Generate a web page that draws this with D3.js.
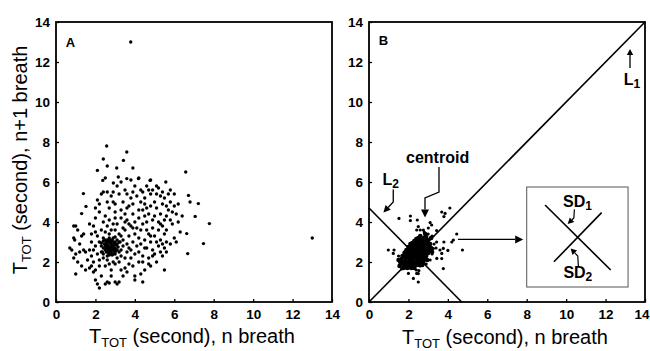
<!DOCTYPE html>
<html><head><meta charset="utf-8">
<script src="https://cdn.jsdelivr.net/npm/d3@7"></script>
<style>
body{margin:0;background:#fff;}
svg{display:block;}
.lab{font-family:"Liberation Sans",Arial,sans-serif;font-size:20px;}
.ann{font-family:"Liberation Sans",Arial,sans-serif;font-weight:bold;font-size:16px;}
</style></head><body>
<svg id="c" width="650" height="351"></svg>
<script>
// ---------- data ----------
const tickValues = [0, 2, 4, 6, 8, 10, 12, 14];
const panelLabels = ["A", "B"];
const axisLabelX = "(second), n breath";
const axisLabelY = "(second), n+1 breath";

// Panel A: T_TOT(n) vs T_TOT(n+1)
const pointsA = [
 [3.79,13.0],[13.0,3.2],
 [2.57,7.8],[3.59,7.5],[2.4,7.15],[3.42,7.08],[2.6,6.8],[3.9,6.7],[3.08,6.7],[2.1,6.58],[6.58,6.5],
 [2.37,6.08],[3.16,6.25],[3.59,6.17],[4.18,6.17],[4.77,6.08],[5.57,6.0],[2.91,5.95],[1.39,5.42],[1.52,4.78],[1.3,4.42],
 [6.72,5.33],[7.22,4.92],[6.8,5.0],[7.06,4.28],[7.78,3.92],[7.48,2.92],[6.68,2.42],[6.63,3.42],
 [0.7,2.7],[0.9,3.8],[1.0,3.8],[0.9,3.2],[0.95,3.1],[1.0,2.4],[0.9,2.2],[1.1,2.0],[1.0,1.4],[1.2,2.9],[1.3,3.3],
 [1.4,3.4],[1.1,3.6],[1.3,1.8],[1.5,1.6],[1.4,2.6],[1.5,2.5],[1.6,2.1],[0.8,2.6],[1.2,2.5],[1.7,2.6],[1.7,1.7],
 [1.8,3.0],[1.8,2.3],[1.9,2.0],[1.9,1.5],[1.8,1.8],
 [2.0,1.1],[2.1,0.9],[2.2,0.7],[2.5,0.9],[2.6,1.0],[2.7,0.95],[3.0,1.0],[3.1,0.9],[3.2,1.0],[3.4,1.3],[4.0,1.3],
 [4.0,1.1],[4.3,1.4],[4.4,1.0],[2.3,1.3],[2.8,1.3],[3.3,1.6],[2.0,1.6],[5.5,1.6],[3.6,1.5],[4.8,1.8],[4.4,2.0],
 [2.1,5.1],[2.0,4.7],[2.2,4.9],[2.3,5.4],[2.4,5.5],[2.5,4.3],[2.6,5.0],[2.7,4.7],[2.8,5.3],[2.9,5.5],[3.0,4.9],
 [3.0,4.2],[3.1,5.8],[3.2,5.4],[3.3,4.6],[3.4,5.0],[3.5,4.4],[3.6,5.4],[3.7,4.8],[3.8,5.2],[3.9,4.9],[4.0,5.8],
 [4.1,5.3],[4.2,4.6],[4.3,5.0],[4.4,5.5],[4.5,5.2],[4.6,4.7],[4.7,5.6],[4.8,5.4],[4.9,5.6],[5.0,5.0],[5.1,5.4],
 [5.2,5.7],[5.3,5.3],[5.4,5.5],[5.5,5.2],[5.6,4.8],[5.7,5.4],[5.8,5.0],[5.9,4.5],[6.0,4.8],[6.1,4.4],[6.2,4.0],
 [5.5,4.1],[5.3,4.4],[5.0,4.3],[4.8,4.8],[4.5,4.3],[4.2,4.2],[3.9,4.4],[3.6,4.1],[3.3,4.2],[3.0,4.5],[2.7,4.1],
 [2.4,4.0],[2.2,4.5],[2.0,4.2],[1.9,3.8],[5.2,4.0],[5.4,3.8],[5.6,4.3],[5.8,4.1],[4.6,4.0],[4.4,4.6],[4.0,4.0],
 [3.7,3.9],[3.4,3.7],[5.1,4.7],[4.9,4.1],[4.7,4.4],[5.7,4.6],[5.9,3.9],[6.3,3.5],[6.0,3.2],[5.6,3.0],[5.8,2.9],
 [5.5,3.4],[5.3,3.1],[5.2,3.6],[5.0,3.3],[4.9,3.7],[4.8,3.0],[4.7,3.4],[4.6,2.7],[4.5,3.1],[4.3,3.6],[4.2,3.2],
 [4.1,2.8],[4.0,3.4],[3.9,3.0],[3.8,2.6],[3.7,3.3],[3.6,2.9],[3.5,3.6],[3.4,3.1],[3.3,2.6],[3.2,3.4],[3.1,3.9],
 [3.0,3.6],[2.9,3.9],[2.8,3.6],[2.7,3.4],[2.6,3.8],[2.5,3.5],[2.4,3.2],[2.3,3.6],[2.2,3.0],[2.1,3.3],[2.0,2.8],
 [2.1,2.4],[2.2,2.1],[2.3,2.5],[2.4,2.2],[2.5,1.8],[2.6,2.1],[2.7,1.9],[2.9,2.0],[3.0,1.9],[3.1,2.2],[3.2,2.0],
 [3.3,2.3],[3.5,2.2],[3.6,2.5],[3.8,2.2],[4.0,2.4],[4.2,2.5],[4.4,2.3],[4.5,2.7],[4.7,2.2],[4.9,2.6],[5.0,2.4],
 [5.2,2.8],[5.3,2.5],[5.5,2.7],[4.3,2.9],[4.6,3.6],[4.8,3.3],[5.1,3.0],[5.4,2.9],[4.1,3.7],[3.8,3.8],[3.5,4.0],
 [3.2,3.0],[3.6,4.7],[3.9,5.5],[4.3,5.6],[4.6,5.8],[5.1,5.8],[2.9,5.0],[2.6,5.5],[3.5,5.6],[4.2,6.2],[3.3,6.0],
 [2.5,6.2],[3.8,6.1],[4.8,6.1],[5.8,5.6],[1.8,3.4],[1.7,3.9],[2.3,2.8],[2.5,2.9],[2.9,2.4],[3.1,2.6],[3.4,2.8],
 [3.7,2.7],[4.2,2.0],[3.9,1.8],[4.7,1.9],[5.1,2.0],[2.2,1.8],[1.9,2.6],[2.0,3.5],[2.6,3.1],[3.3,3.3],[3.9,3.7],
 [4.4,3.9],[4.5,4.9],[5.4,4.9],[5.3,3.9],[5.6,3.6],[6.1,3.0],[6.2,4.9],[6.4,4.3],[6.0,5.4],[5.6,2.5],[5.4,2.3],
 [4.9,2.3],[3.7,1.9],[3.5,1.7],[4.5,1.6],[2.8,1.6],
 [2.5,2.6],[2.6,2.7],[2.7,2.8],[2.8,2.9],[2.9,2.8],[3.0,2.7],[2.7,2.6],[2.8,2.5],[2.9,3.0],[2.6,3.0],[2.75,3.1],
 [3.0,3.0],[2.5,2.8],[2.65,2.45],[2.85,2.65],[2.95,2.55],[3.05,2.85],[2.55,3.05],[2.7,3.2],[2.9,3.2],[2.8,2.7],
 [2.75,2.95],[2.6,2.85],[3.1,3.1],[2.4,2.7],[2.45,2.9],[3.15,2.75],[2.85,2.35],[2.7,2.35],[3.0,2.4],
 [2.55,2.5],[2.65,2.6],[2.75,2.7],[2.85,2.8],[2.95,2.9],[2.6,2.95],[2.7,3.05],[2.8,3.0],[2.9,2.6],[3.0,2.5],
 [2.65,2.75],[2.8,2.6],[2.95,2.7],[2.55,2.7],[2.8,2.4],[2.7,2.5],[3.05,2.6],[2.5,3.1],[2.85,3.1],[3.1,2.9],
 [2.35,2.5],[2.4,2.4],[3.2,2.5],[3.25,3.0],[2.4,3.05],[2.6,2.3],[3.0,3.25],[2.3,2.95]
];

// Panel B: dense central cluster
const clusterB = [
 [1.75,1.7],[1.95,1.7],[2.15,1.7],[2.3,1.7],
 [1.6,1.85],[1.8,1.85],[2.0,1.85],[2.2,1.85],[2.4,1.85],[2.55,1.85],
 [1.6,2.0],[1.8,2.0],[2.0,2.0],[2.2,2.0],[2.4,2.0],[2.6,2.0],[2.75,2.0],
 [1.65,2.15],[1.85,2.15],[2.05,2.15],[2.25,2.15],[2.45,2.15],[2.65,2.15],[2.85,2.15],
 [1.7,2.3],[1.9,2.3],[2.1,2.3],[2.3,2.3],[2.5,2.3],[2.7,2.3],[2.9,2.3],
 [1.8,2.45],[2.0,2.45],[2.2,2.45],[2.4,2.45],[2.6,2.45],[2.8,2.45],[3.0,2.45],
 [1.9,2.6],[2.1,2.6],[2.3,2.6],[2.5,2.6],[2.7,2.6],[2.9,2.6],[3.1,2.6],
 [2.0,2.75],[2.2,2.75],[2.4,2.75],[2.6,2.75],[2.8,2.75],[3.05,2.75],
 [2.1,2.9],[2.3,2.9],[2.5,2.9],[2.7,2.9],[2.95,2.9],
 [2.3,3.05],[2.5,3.05],[2.7,3.05],[2.9,3.05],
 [2.5,3.2],[2.75,3.2],[2.6,3.3],[2.9,3.25],
 [1.7,1.95],[1.9,1.95],[2.1,1.95],[2.3,1.95],[2.5,1.95],[1.75,2.25],[1.95,2.25],[2.15,2.25],[2.35,2.25],[2.55,2.25],
 [2.75,2.25],[1.85,2.5],[2.05,2.5],[2.25,2.5],[2.45,2.5],[2.65,2.5],[2.85,2.5],[2.05,2.7],[2.25,2.7],[2.45,2.7],
 [2.65,2.7],[2.85,2.7],[2.2,2.95],[2.4,2.95],[2.6,2.95],[2.8,2.95],[2.4,3.15],[2.65,3.15],[1.85,1.75],[2.05,1.75],
 [3.0,3.1],[3.1,2.9],[3.15,3.2],[2.85,3.4],[3.15,2.7],[3.2,2.5],[1.5,2.1],[1.55,1.8],[2.7,1.85],[2.95,2.1]
];
// Panel B: scattered points
const scatterB = [
 [3.2,3.3],[3.0,3.4],[2.8,3.5],[2.6,3.6],[3.3,2.9],[3.4,2.7],[1.5,2.3],[1.55,2.0],[1.65,1.65],[2.4,1.6],
 [2.6,1.8],[2.9,1.9],[3.1,2.1],[3.2,2.4],
 [1.52,4.18],[2.1,4.3],[2.1,4.07],[2.45,4.1],[3.8,4.27],[4.1,4.7],[3.69,4.5],[3.86,4.43],[3.1,3.97],[3.18,3.85],
 [2.42,3.6],[2.5,3.77],[2.76,3.6],[3.01,3.7],[3.43,3.57],[4.45,3.4],[4.28,3.1],[4.2,3.0],[4.74,2.6],[4.0,2.58],
 [3.6,2.6],[3.77,2.68],[3.69,2.43],[3.44,2.18],[3.69,2.17],[3.77,1.67],[0.98,2.6],[1.27,2.6],[1.23,2.43],
 [1.91,1.7],[2.0,1.43],[2.25,1.18],[2.42,1.43],[2.5,1.42],[2.53,1.57],[2.5,1.0],[3.43,3.0],[3.26,2.67],[3.8,3.0]
];

// ---------- layout ----------
const svg = d3.select("#c");
const panels = [
  {name: panelLabels[0], x0: 56, x1: 332, sets: [[pointsA, 1.7]], labBase: 343},
  {name: panelLabels[1], x0: 369, x1: 645, sets: [[clusterB, 2.3], [scatterB, 1.6]], labBase: 344}
];
const yTop = 22, yBot = 302;

panels.forEach((p, i) => {
  const x = d3.scaleLinear().domain([0, 14]).range([p.x0, p.x1]);
  const y = d3.scaleLinear().domain([0, 14]).range([yBot, yTop]);
  p.x = x; p.y = y;
  const g = svg.append("g");

  // points
  p.sets.forEach(([pts, r]) => {
    g.append("g").selectAll("circle").data(pts).join("circle")
      .attr("cx", d => x(d[0])).attr("cy", d => y(d[1])).attr("r", r).attr("fill", "#000");
  });

  // axes (inner ticks)
  const xAx = d3.axisBottom(x).tickValues(tickValues).tickSize(-3).tickPadding(7).tickFormat(d3.format("d"));
  const yAx = d3.axisLeft(y).tickValues(tickValues).tickSize(-3).tickPadding(6).tickFormat(d3.format("d"));
  const gx = g.append("g").attr("transform", `translate(0,${yBot})`).call(xAx);
  const gy = g.append("g").attr("transform", `translate(${p.x0},0)`).call(yAx);
  [gx, gy].forEach(a => {
    a.select(".domain").remove();
    a.selectAll("line").attr("stroke", "#000").attr("stroke-width", 1.3);
    a.selectAll("text").attr("fill", "#000")
      .style("font-family", "'Liberation Sans Narrow','Arial Narrow','Liberation Sans',Arial,sans-serif")
      .style("font-weight", "bold").style("font-size", "13.5px");
  });
  gx.selectAll("text").attr("dy", "0.71em");
  gy.selectAll("text").attr("dy", "0.36em");
  if (i === 1) gx.selectAll("text").filter(d => d === 14).attr("text-anchor", "end").attr("dx", 4);

  // frame
  g.append("rect").attr("x", p.x0).attr("y", yTop).attr("width", p.x1 - p.x0).attr("height", yBot - yTop)
    .attr("fill", "none").attr("stroke", "#000").attr("stroke-width", 1.8);

  // panel letter
  g.append("text").attr("x", x(0.5)).attr("y", y(i === 0 ? 12.75 : 12.85))
    .attr("font-family", "Liberation Sans, Arial, sans-serif").attr("font-weight", "bold").attr("font-size", 13)
    .text(p.name);

  // x label
  const xl = g.append("text").attr("class", "lab").attr("x", (p.x0 + p.x1) / 2 - 2).attr("y", p.labBase).attr("text-anchor", "middle");
  xl.append("tspan").text("T");
  xl.append("tspan").attr("font-size", 13).attr("dy", 4).text("TOT");
  xl.append("tspan").attr("dy", -4).text(" " + axisLabelX);
});

// y label (panel A only)
const yl = svg.append("text").attr("class", "lab").attr("text-anchor", "middle")
  .attr("transform", "translate(27,160) rotate(-90)");
yl.append("tspan").text("T");
yl.append("tspan").attr("font-size", 13).attr("dy", 4).text("TOT");
yl.append("tspan").attr("dy", -4).text(" " + axisLabelY);

// ---------- Panel B annotations ----------
const B = panels[1], bx = B.x, by = B.y;
const gb = svg.append("g");
const line = d3.line().x(d => bx(d[0])).y(d => by(d[1]));

// L1 identity line and L2 line
gb.append("path").attr("d", line([[0, 0], [14, 14]])).attr("stroke", "#000").attr("stroke-width", 1.6).attr("fill", "none");
gb.append("path").attr("d", line([[0, 4.7], [4.7, 0]])).attr("stroke", "#000").attr("stroke-width", 1.6).attr("fill", "none");

function arrow(pts, sw, hl, hw) {
  const P = pts.map(d => [bx(d[0]), by(d[1])]);
  const n = P.length, tip = P[n - 1], prev = P[n - 2];
  const dx = tip[0] - prev[0], dy = tip[1] - prev[1], L = Math.hypot(dx, dy);
  const ux = dx / L, uy = dy / L;
  const base = [tip[0] - ux * hl, tip[1] - uy * hl];
  const shaft = P.slice(0, n - 1).concat([base]);
  gb.append("path").attr("d", d3.line()(shaft)).attr("stroke", "#000").attr("stroke-width", sw).attr("fill", "none");
  gb.append("path").attr("d", d3.line()([tip, [base[0] - uy * hw, base[1] + ux * hw], [base[0] + uy * hw, base[1] - ux * hw]]) + "Z")
    .attr("fill", "#000");
}

// L1
arrow([[13.24, 11.7], [13.24, 12.65]], 1.3, 6, 3.2);
const t1 = gb.append("text").attr("class", "ann").attr("x", bx(12.92)).attr("y", by(10.85));
t1.append("tspan").text("L");
t1.append("tspan").attr("font-size", 12).attr("dy", 3).text("1");

// L2
arrow([[1.23, 5.62], [1.23, 5.0], [0.73, 4.47]], 1.3, 7, 3.5);
const t2 = gb.append("text").attr("class", "ann").attr("x", bx(0.68)).attr("y", by(5.85));
t2.append("tspan").text("L");
t2.append("tspan").attr("font-size", 12).attr("dy", 3).text("2");

// centroid
arrow([[3.55, 6.75], [3.55, 5.5], [2.84, 5.2], [2.84, 4.22]], 1.3, 8, 4);
gb.append("text").attr("class", "ann").attr("x", bx(3.48)).attr("y", by(6.95)).attr("text-anchor", "middle").text("centroid");

// horizontal arrow to inset
arrow([[4.51, 3.13], [7.82, 3.13]], 1.3, 8, 4);

// inset box
gb.append("rect").attr("x", bx(8.0)).attr("y", by(5.75)).attr("width", bx(13.14) - bx(8.0)).attr("height", by(0.75) - by(5.75))
  .attr("fill", "#fff").attr("stroke", "#555").attr("stroke-width", 1);
gb.append("path").attr("d", line([[8.93, 4.85], [12.26, 1.6]])).attr("stroke", "#000").attr("stroke-width", 1.6);
gb.append("path").attr("d", line([[9.38, 2.01], [11.8, 4.47]])).attr("stroke", "#000").attr("stroke-width", 1.6);

// SD1
arrow([[10.42, 4.63], [10.39, 4.2], [10.08, 3.9]], 1.2, 6, 3.2);
const s1 = gb.append("text").attr("class", "ann").attr("x", bx(9.84)).attr("y", by(4.76));
s1.append("tspan").text("SD");
s1.append("tspan").attr("font-size", 12).attr("dy", 3).text("1");

// SD2
arrow([[10.62, 1.77], [10.59, 2.3], [10.23, 2.68]], 1.2, 6, 3.2);
const s2 = gb.append("text").attr("class", "ann").attr("x", bx(9.86)).attr("y", by(1.2));
s2.append("tspan").text("SD");
s2.append("tspan").attr("font-size", 12).attr("dy", 3).text("2");
</script>
</body></html>
